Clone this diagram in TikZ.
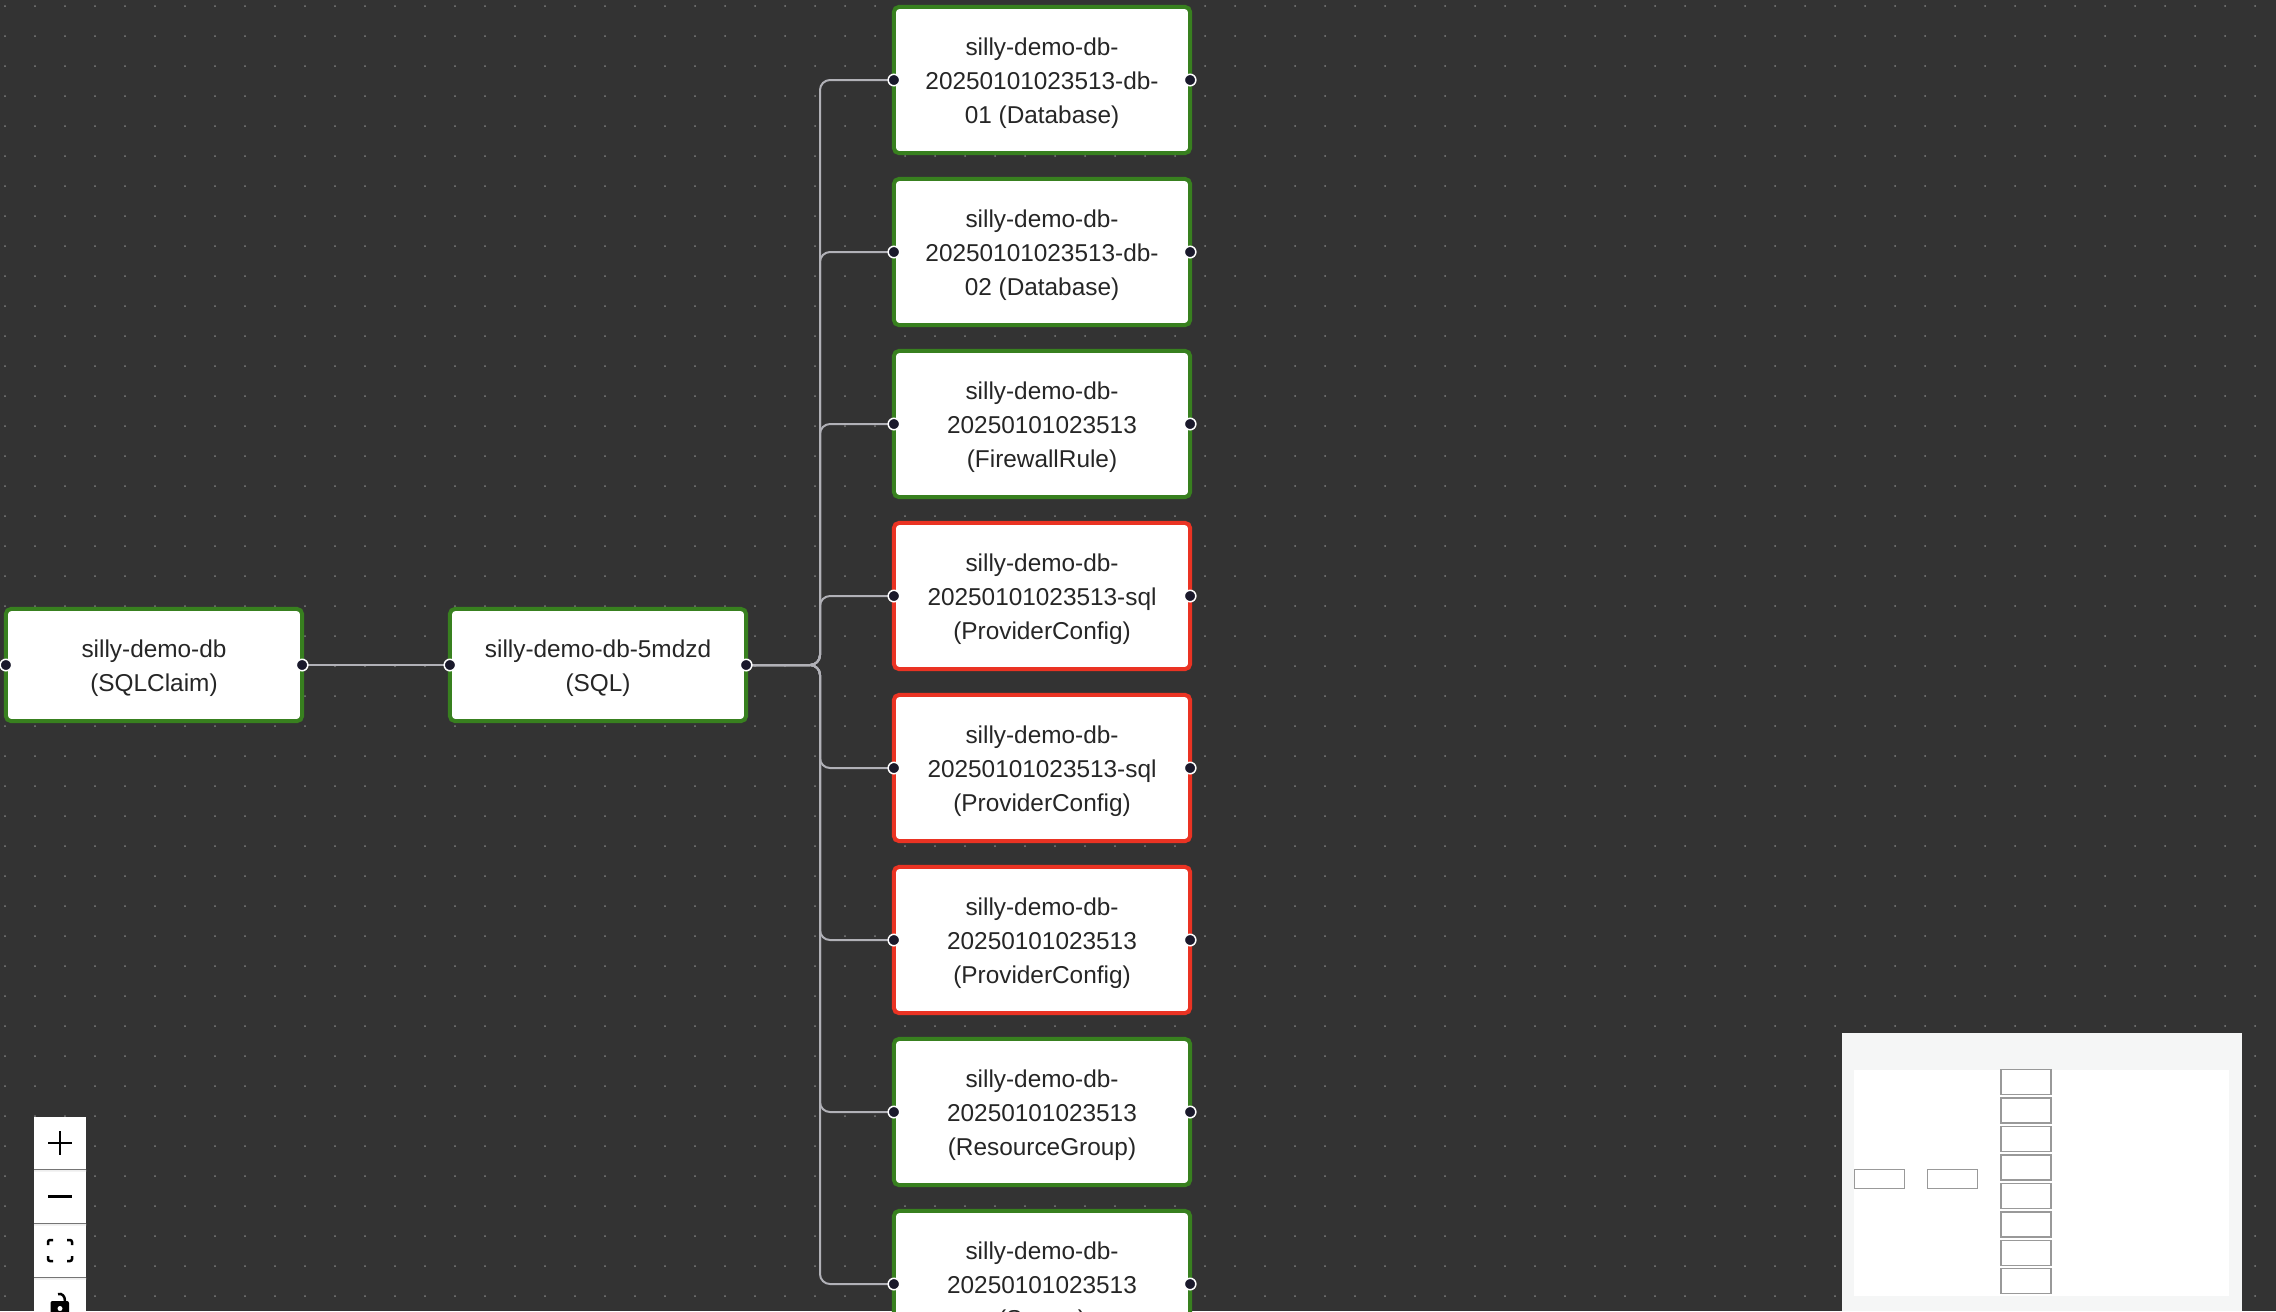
\documentclass[tikz,border=0pt]{standalone}
\usepackage{fontspec}
\setmainfont{Liberation Sans}
\usetikzlibrary{arrows.meta, positioning, calc}
\definecolor{cbg}{HTML}{333333}
\definecolor{cdot}{HTML}{7E7E7E}
\definecolor{cgreen}{HTML}{38801F}
\definecolor{cred}{HTML}{EA3323}
\definecolor{cedge}{HTML}{B1B1B7}
\definecolor{chandle}{HTML}{1A192B}
\definecolor{cmapbg}{HTML}{F5F6F6}
\definecolor{cmapbox}{HTML}{999999}
\definecolor{cbtnsep}{HTML}{EEEEEE}
\newcommand{\topstrut}{\rule{0pt}{6.9pt}}
\tikzset{
  every picture/.style={x=0.01cm, y=-0.01cm},
  res/.style={draw=#1, fill=white, line width=0.04cm, rounded corners=0.05cm, outer sep=0pt, inner sep=0pt,
    minimum width=2.96cm, align=center, text=black!85, font=\fontsize{6.93pt}{9.67pt}\selectfont},
  res/.default=cgreen,
  tall/.style={minimum height=1.46cm},
  wide/.style={minimum height=1.12cm},
  handle/.style={circle, draw=white, fill=chandle, line width=0.015cm, minimum size=0.115cm, inner sep=0pt},
  edge/.style={draw=cedge, line width=0.02cm, rounded corners=0.1cm},
  griddot/.style={fill=cdot},
  mapbox/.style={draw=cmapbox, fill=white, line width=0.015cm, minimum width=0.5cm, minimum height=#1, inner sep=0pt, outer sep=0pt},
  mapbox/.default=0.25cm,
  btn/.style={fill=white, minimum width=0.52cm, minimum height=0.52cm, inner sep=0pt, outer sep=0pt},
  icon/.style={draw=black, line width=0.025cm},
}
\begin{document}
\begin{tikzpicture}
  \useasboundingbox (0,0) rectangle (2276,1311);
  \clip (0,0) rectangle (2276,1311);
  \fill[cbg] (0,0) rectangle (2276,1311);
  % background dots
  \foreach \gx in {5,35,...,2275}
    \foreach \gy in {6,36,...,1306}
      \fill[griddot] (\gx,\gy) circle (1);
  % resources
  \node[res, wide] (claim) at (154,665) {\topstrut silly-demo-db\\(SQLClaim)};
  \node[res, wide] (sql) at (598,665) {\topstrut silly-demo-db-5mdzd\\(SQL)};
  \coordinate (trunk) at (820,665);
  \foreach \name/\col/\ypos/\txt in {
    dbone/cgreen/80/{silly-demo-db-\\20250101023513-db-\\01 (Database)},
    dbtwo/cgreen/252/{silly-demo-db-\\20250101023513-db-\\02 (Database)},
    rule/cgreen/424/{silly-demo-db-\\20250101023513\\(FirewallRule)},
    cfgone/cred/596/{silly-demo-db-\\20250101023513-sql\\(ProviderConfig)},
    cfgtwo/cred/768/{silly-demo-db-\\20250101023513-sql\\(ProviderConfig)},
    cfgthree/cred/940/{silly-demo-db-\\20250101023513\\(ProviderConfig)},
    group/cgreen/1112/{silly-demo-db-\\20250101023513\\(ResourceGroup)},
    server/cgreen/1284/{silly-demo-db-\\20250101023513\\(Server)}} {
    \node[res=\col, tall] (\name) at (1042,\ypos) {\topstrut \txt};
    \draw[edge] (sql.east) -- (trunk) -- (trunk |- \name.west) -- (\name.west);
    \node[handle] (\name in) at (\name.west) {};
    \node[handle] (\name out) at (\name.east) {};
  }
  \draw[edge] (claim.east) -- (sql.west);
  \foreach \name in {claim, sql} {
    \node[handle] (\name in) at (\name.west) {};
    \node[handle] (\name out) at (\name.east) {};
  }
  % zoom controls
  \node[btn] (zoomin) at (60,1143) {};
  \node[btn] (zoomout) at (60,1197) {};
  \node[btn] (fitview) at (60,1251) {};
  \node[btn] (lock) at (60,1305) {};
  \fill[cbtnsep] (34,1169.5) rectangle (86,1171.5) (34,1223.5) rectangle (86,1225.5) (34,1277.5) rectangle (86,1279.5);
  \draw[icon] (48,1143) -- (72,1143) (60,1131) -- (60,1155);
  \draw[line width=0.035cm] (48,1196.5) -- (72,1196.5);
  \draw[icon, rounded corners=0.02cm] (48,1245) -- (48,1240) -- (53,1240) (67,1240) -- (72,1240) -- (72,1245)
    (72,1256) -- (72,1261) -- (67,1261) (53,1261) -- (48,1261) -- (48,1256);
  \fill[black, rounded corners=0.02cm] (50.5,1301) rectangle (69,1325);
  \draw[icon] (58,1294) .. controls (62,1293) and (65,1296) .. (65,1301);
  \fill[white] (60,1308.5) circle (2.5);
  % minimap
  \fill[cmapbg] (1842,1033) rectangle (2242,1311);
  \fill[white] (1854,1070) rectangle (2229,1296);
  \node[mapbox=0.19cm] (mapclaim) at (1879.5,1179) {};
  \node[mapbox=0.19cm] (mapsql) at (1952.5,1179) {};
  \foreach \ypos [count=\i] in {1082,1110.5,1139,1167.5,1196,1224.5,1253,1281}
    \node[mapbox] (map\i) at (2026,\ypos) {};
\end{tikzpicture}
\end{document}
